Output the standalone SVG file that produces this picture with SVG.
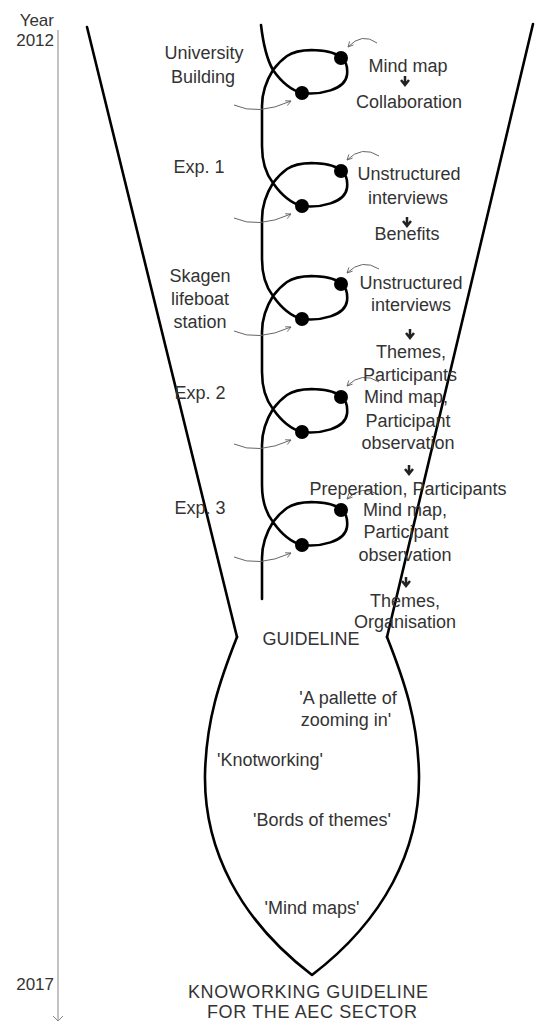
<svg xmlns="http://www.w3.org/2000/svg" width="535" height="1023" viewBox="0 0 535 1023">
<style>
  text { font-family: "Liberation Sans", Arial, sans-serif; font-size: 18px; fill: #333; }
  .mid { text-anchor: middle; }
  .year { font-size: 17px; text-anchor: end; }
  .thick { fill: none; stroke: #000; stroke-width: 2.6; stroke-linejoin: round; stroke-linecap: round; }
  .thin { fill: none; stroke: #666; stroke-width: 1; marker-end: url(#ah); }
  .dot { fill: #000; }
  .dn { fill: none; stroke: #222; stroke-width: 2.5; stroke-linecap: butt; }
</style>
<defs>
  <marker id="ah" viewBox="0 0 8 8" refX="7" refY="4" markerWidth="7" markerHeight="7" markerUnits="userSpaceOnUse" orient="auto">
    <path d="M1,1 L7,4 L1,7" fill="none" stroke="#666" stroke-width="1"/>
  </marker>
  <g id="down">
    <path class="dn" d="M0,-5 V3 M-4,-1 L0,4 L4,-1"/>
  </g>
</defs>
<rect width="535" height="1023" fill="#fff"/>

<g id="timeline">
  <line x1="58" y1="30" x2="58" y2="1021" stroke="#888" stroke-width="1"/>
  <path d="M53,1016 L58,1021 L63,1016" fill="none" stroke="#888" stroke-width="1"/>
  <text class="year" x="54" y="26">Year</text>
  <text class="year" x="54" y="46">2012</text>
  <text class="year" x="54" y="990">2017</text>
</g>

<g id="funnel">
  <path class="thick" d="M87,27 L237,637"/>
  <path class="thick" d="M533,24 L387,637"/>
  <path class="thick" d="M237,637 C220,680 206,720 205,775 C204,850 240,920 312,975 C384,920 420,850 419,775 C418,720 404,680 387,637"/>
</g>

<g id="connectors">
  <path class="thick" d="M261,25 C263,42 266,58 273,70
    C280,80 290,90 302,93 C320,95 345,90 347,75 C348,66 346,61 341,58 C333,49 300,47 287,56 C280,61 276,66 273,70 C268,78 262,90 262,106 L262,146
    C262,161 266,174 273,183 C280,193 290,203 302,206 C320,208 345,203 347,188 C348,179 346,174 341,171 C333,162 300,160 287,169 C280,174 276,179 273,183 C268,191 262,203 262,219 L262,259
    C262,274 266,287 273,296 C280,306 290,316 302,319 C320,321 345,316 347,301 C348,292 346,287 341,284 C333,275 300,273 287,282 C280,287 276,292 273,296 C268,304 262,316 262,332 L262,372
    C262,387 266,400 273,409 C280,419 290,429 302,432 C320,434 345,429 347,414 C348,405 346,400 341,397 C333,388 300,386 287,395 C280,400 276,405 273,409 C268,417 262,429 262,445 L262,485
    C262,500 266,513 273,522 C280,532 290,542 302,545 C320,547 345,542 347,527 C348,518 346,513 341,510 C333,501 300,499 287,508 C280,513 276,518 273,522 C268,530 262,542 262,558 L262,599"/>
  <path class="thin" d="M234,105 Q258,116 291,101"/>
  <path class="thin" d="M234,218 Q258,229 291,214"/>
  <path class="thin" d="M234,331 Q258,342 291,327"/>
  <path class="thin" d="M234,444 Q258,455 291,440"/>
  <path class="thin" d="M234,557 Q258,568 291,553"/>
  <path class="thin" d="M377,43 Q362,32 348,47"/>
  <path class="thin" d="M379,156 Q362,145 347,160"/>
  <path class="thin" d="M379,269 Q362,258 347,273"/>
  <path class="thin" d="M379,382 Q362,371 347,386"/>
  <path class="thin" d="M379,495 Q362,484 347,499"/>
</g>

<g id="dots">
  <circle class="dot" cx="341" cy="58" r="7"/><circle class="dot" cx="302" cy="93" r="7"/>
  <circle class="dot" cx="341" cy="171" r="7"/><circle class="dot" cx="302" cy="206" r="7"/>
  <circle class="dot" cx="341" cy="284" r="7"/><circle class="dot" cx="302" cy="319" r="7"/>
  <circle class="dot" cx="341" cy="397" r="7"/><circle class="dot" cx="302" cy="432" r="7"/>
  <circle class="dot" cx="341" cy="510" r="7"/><circle class="dot" cx="302" cy="545" r="7"/>
</g>

<g id="case-university">
  <text class="mid" x="204" y="59">University</text>
  <text class="mid" x="203" y="83">Building</text>
</g>
<g id="case-exp1"><text class="mid" x="199" y="173">Exp. 1</text></g>
<g id="case-skagen">
  <text class="mid" x="200" y="282">Skagen</text>
  <text class="mid" x="200" y="305">lifeboat</text>
  <text class="mid" x="200" y="328">station</text>
</g>
<g id="case-exp2"><text class="mid" x="200" y="399">Exp. 2</text></g>
<g id="case-exp3"><text class="mid" x="200" y="514">Exp. 3</text></g>

<g id="method-1">
  <text class="mid" x="408" y="72">Mind map</text>
  <use href="#down" x="405" y="81"/>
  <text class="mid" x="409" y="108">Collaboration</text>
</g>
<g id="method-2">
  <text class="mid" x="409" y="180">Unstructured</text>
  <text class="mid" x="408" y="204">interviews</text>
  <use href="#down" x="407" y="222"/>
  <text class="mid" x="407" y="240">Benefits</text>
</g>
<g id="method-3">
  <text class="mid" x="411" y="289">Unstructured</text>
  <text class="mid" x="411" y="311">interviews</text>
  <use href="#down" x="410" y="334"/>
  <text class="mid" x="411" y="358">Themes,</text>
  <text class="mid" x="410" y="381">Participants</text>
</g>
<g id="method-4">
  <text class="mid" x="406" y="403">Mind map,</text>
  <text class="mid" x="408" y="427">Participant</text>
  <text class="mid" x="408" y="449">observation</text>
  <use href="#down" x="409" y="470"/>
  <text class="mid" x="408" y="495">Preperation, Participants</text>
</g>
<g id="method-5">
  <text class="mid" x="405" y="516">Mind map,</text>
  <text class="mid" x="406" y="538">Participant</text>
  <text class="mid" x="405" y="561">observation</text>
  <use href="#down" x="406" y="582"/>
  <text class="mid" x="405" y="607">Themes,</text>
  <text class="mid" x="405" y="628">Organisation</text>
</g>

<g id="guideline">
  <text class="mid" x="311" y="645">GUIDELINE</text>
  <text class="mid" x="348" y="704">'A pallette of</text>
  <text class="mid" x="346" y="726">zooming in'</text>
  <text class="mid" x="270" y="766">'Knotworking'</text>
  <text class="mid" x="322" y="826">'Bords of themes'</text>
  <text class="mid" x="312" y="914">'Mind maps'</text>
</g>

<g id="result">
  <text class="mid" x="308" y="998" textLength="240" lengthAdjust="spacing">KNOWORKING GUIDELINE</text>
  <text class="mid" x="312" y="1018" textLength="210" lengthAdjust="spacing">FOR THE AEC SECTOR</text>
</g>
</svg>
